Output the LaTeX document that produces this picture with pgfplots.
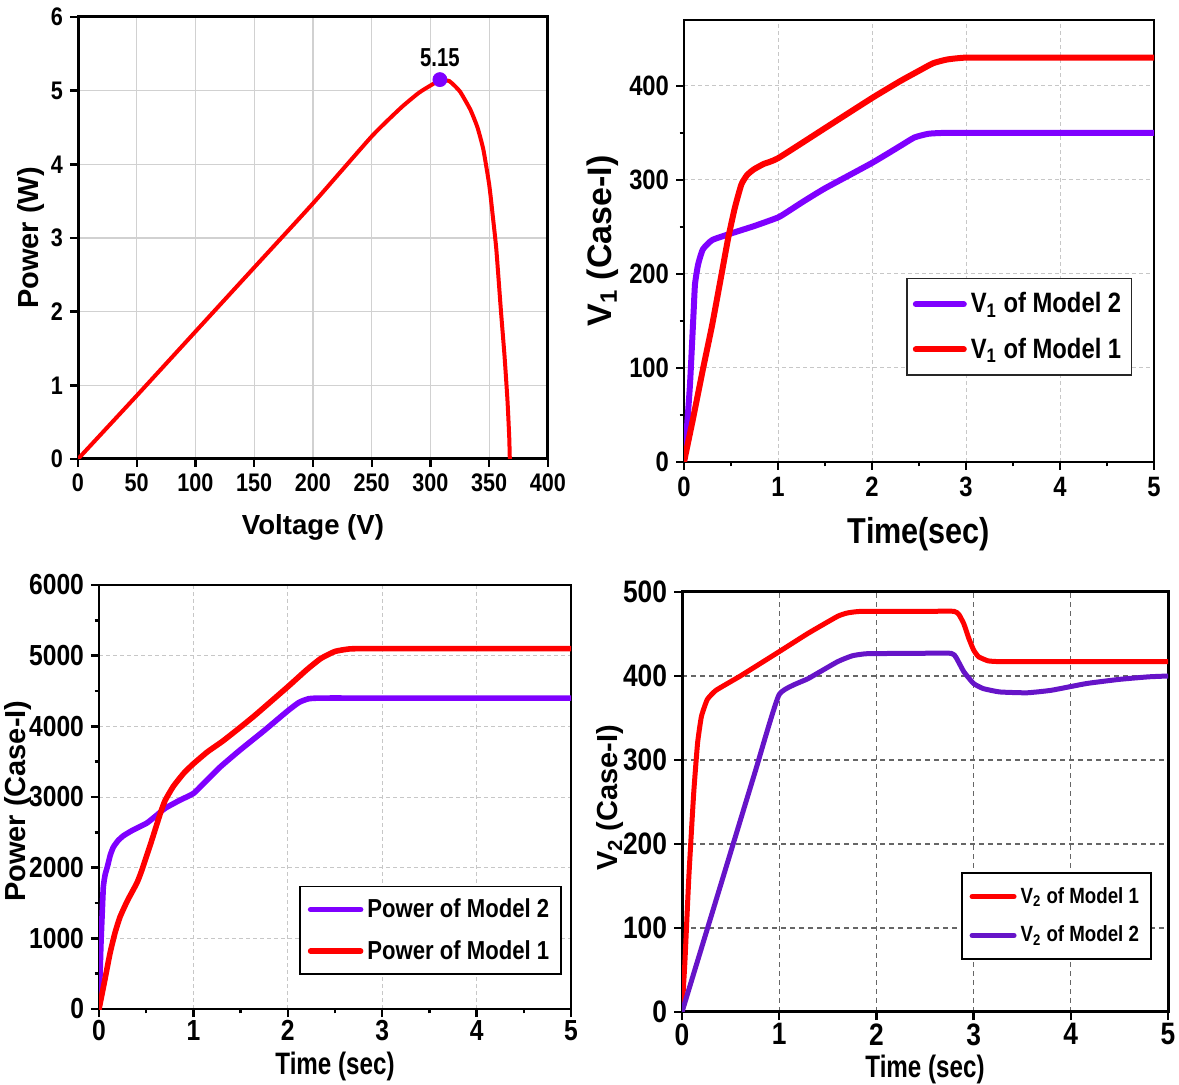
\documentclass[border=0pt]{standalone}
\usepackage{pgfplots}
\pgfplotsset{compat=1.18}
\usepackage{fontspec}
\setmainfont{Liberation Sans}[FakeStretch=0.85]
\newfontfamily\wide{Liberation Sans}
\newfontfamily\narrow{Liberation Sans}[FakeStretch=0.78]
\definecolor{myred}{RGB}{255,0,0}
\definecolor{myviolet}{RGB}{127,0,255}
\definecolor{mypurple}{RGB}{102,20,200}
\newcommand{\fs}[1]{\fontsize{#1bp}{#1bp}\selectfont\bfseries}
\pgfplotsset{
  base/.style={
    scale only axis, anchor=south west,
    axis line style={line width=1.3bp},
    tick style={line width=1.2bp, black},
    major tick length=4bp, minor tick length=2.2bp,
    tick align=outside, tick pos=left,
    /pgf/number format/assume math mode=true,
    /pgf/number format/1000 sep={},
    scaled ticks=false,
    grid=major,
    label style={inner sep=0pt},
    legend cell align=left,
    every axis plot/.append style={line join=round, line cap=round},
  }
}
\begin{document}
\begin{tikzpicture}
\path[use as bounding box] (0,0) rectangle (589.5bp,542.5bp);

% ---------- Panel 1: P-V curve ----------
\begin{axis}[base, at={(39bp,313bp)}, width=235bp, height=221bp,
  xmin=0, xmax=400, ymin=0, ymax=6,
  xtick={0,50,...,400}, ytick={0,1,...,6},
  axis line style={line width=1.5bp},
  major grid style={line width=0.7bp, color=black!18},
  tick label style={font=\fs{12.7}},
  xlabel={Voltage (V)}, ylabel={Power (W)},
  xlabel style={font=\wide\fs{13.8}, at={(axis description cs:0.5,-0.125)}, anchor=north},
  ylabel style={font=\wide\fs{14.5}, at={(axis description cs:-0.070,0.5)}, anchor=south},
]
\addplot[myred, line width=2bp, smooth, tension=0.3] coordinates {
(0,0) (50,0.86) (100,1.73) (150,2.6) (200,3.47) (250,4.38) (275,4.77)
(290,4.97) (300,5.07) (308,5.14) (316,5.13) (325,4.99) (334,4.74)
(340,4.5) (345,4.2) (350,3.72) (353,3.3) (356,2.85) (360,2.0)
(363,1.4) (365.5,0.8) (367,0.3) (367.5,0)};
\addplot[only marks, mark=*, mark size=3.5bp, color=myviolet,
  nodes near coords, point meta=explicit symbolic,
  every node near coord/.append style={font=\narrow\fs{13}, black, yshift=3bp}]
  coordinates {(308,5.15) [5.15]};
\end{axis}

% ---------- Panel 2: V1 ----------
\begin{axis}[base, at={(342bp,311.5bp)}, width=235bp, height=221bp,
  xmin=0, xmax=5, ymin=0, ymax=470,
  xtick={0,1,...,5}, ytick={0,100,...,400},
  minor x tick num=1, minor y tick num=1,
  major grid style={line width=0.5bp, color=black!22, dash pattern=on 2bp off 1.5bp},
  tick label style={font=\fs{14}},
  xlabel={Time(sec)}, ylabel={V\textsubscript{1} (Case-I)},
  xlabel style={font=\fs{18}, at={(axis description cs:0.5,-0.124)}, anchor=north},
  ylabel style={font=\wide\fs{17}, at={(axis description cs:-0.138,0.5)}, anchor=south},
  legend style={at={(0.953,0.195)}, anchor=south east, draw=black!85, line width=0.7bp,
    font=\fs{14}, row sep=7bp, inner xsep=3bp, inner ysep=5bp},
  legend image code/.code={\draw[#1] (0bp,0bp) -- (24bp,0bp);},
]
\addplot[myviolet, line width=3bp, smooth, tension=0.3] coordinates {
(0,0) (0.03,35) (0.064,83) (0.1,155) (0.117,189) (0.15,210) (0.2,226)
(0.3,236) (0.5,243) (0.75,251) (1.0,260) (1.1,266) (1.27,277) (1.5,291)
(2.0,318) (2.3,336) (2.45,345) (2.6,349) (2.8,350) (3.5,350) (5,350)};
\addlegendentry{V\textsubscript{1} of Model 2}
\addplot[myred, line width=3bp, smooth, tension=0.3] coordinates {
(0,0) (0.1,48) (0.2,98) (0.3,146) (0.4,200) (0.47,238) (0.54,270)
(0.61,295) (0.67,305) (0.74,311) (0.85,317) (1.0,323) (1.5,355)
(2.0,387) (2.3,405) (2.5,416) (2.65,424) (2.8,428) (3.0,430) (3.5,430) (5,430)};
\addlegendentry{V\textsubscript{1} of Model 1}
\end{axis}

% ---------- Panel 3: Power ----------
\begin{axis}[base, at={(49.5bp,38bp)}, width=236bp, height=212bp,
  xmin=0, xmax=5, ymin=0, ymax=6000,
  xtick={0,1,...,5}, ytick={0,1000,...,6000},
  minor x tick num=1, minor y tick num=1,
  major grid style={line width=0.5bp, color=black!22, dash pattern=on 2bp off 1.5bp},
  tick label style={font=\fs{14.5}},
  xticklabel style={inner sep=1.5bp},
  xlabel={Time (sec)}, ylabel={Power (Case-I)},
  xlabel style={font=\narrow\fs{15.5}, at={(axis description cs:0.5,-0.100)}, anchor=north},
  ylabel style={font=\wide\fs{14.5}, at={(axis description cs:-0.142,0.49)}, anchor=south},
  legend style={at={(0.981,0.08)}, anchor=south east, draw=black, line width=0.9bp,
    font=\fs{13}, row sep=6bp, inner xsep=4bp, inner ysep=4bp},
  legend image code/.code={\draw[#1] (0bp,0bp) -- (25bp,0bp);},
]
\addplot[myviolet, line width=2.8bp, smooth, tension=0.3] coordinates {
(0,0) (0.02,900) (0.035,1400) (0.046,1730) (0.065,1900) (0.09,2020)
(0.12,2180) (0.152,2290) (0.2,2380) (0.257,2450) (0.35,2525) (0.505,2630)
(0.6,2730) (0.7,2840) (0.85,2950) (1.0,3050) (1.1,3180) (1.28,3420)
(1.49,3660) (1.75,3940) (2.0,4220) (2.12,4340) (2.22,4390) (2.35,4400) (3,4400) (5,4400)};
\addlegendentry{Power of Model 2}
\addplot[myred, line width=2.8bp, smooth, tension=0.3] coordinates {
(0,0) (0.06,400) (0.117,790) (0.17,1080) (0.222,1300) (0.3,1530)
(0.4,1780) (0.45,1950) (0.55,2350) (0.65,2770) (0.7,2950) (0.787,3150)
(0.9,3340) (1.0,3470) (1.15,3640) (1.31,3790) (1.5,3990) (1.66,4165)
(2.0,4560) (2.2,4800) (2.35,4960) (2.5,5060) (2.65,5095) (2.8,5100) (3.5,5100) (5,5100)};
\addlegendentry{Power of Model 1}
\end{axis}

% ---------- Panel 4: V2 ----------
\begin{axis}[base, at={(341bp,36.5bp)}, width=243bp, height=210bp,
  xmin=0, xmax=5, ymin=0, ymax=500,
  xtick={0,1,...,5}, ytick={0,100,...,500},
  axis line style={line width=1.5bp},
  major grid style={line width=0.6bp, color=black!60, dash pattern=on 2.5bp off 2bp},
  tick label style={font=\fs{15.5}},
  xticklabel style={inner sep=1.5bp},
  xlabel={Time (sec)}, ylabel={V\textsubscript{2} (Case-I)},
  xlabel style={font=\narrow\fs{15.5}, at={(axis description cs:0.5,-0.102)}, anchor=north},
  ylabel style={font=\wide\fs{14.5}, at={(axis description cs:-0.119,0.51)}, anchor=south},
  legend style={at={(0.967,0.124)}, anchor=south east, draw=black, line width=1bp,
    font=\fs{11}, row sep=6bp, inner xsep=4bp, inner ysep=5bp},
  legend image code/.code={\draw[#1] (0bp,0bp) -- (21bp,0bp);},
]
\addplot[myred, line width=2.5bp, smooth, tension=0.25] coordinates {
(0,0) (0.03,60) (0.07,160) (0.12,260) (0.16,320) (0.2,352) (0.26,372)
(0.35,383) (0.6,400) (1.0,429) (1.3,451) (1.6,471) (1.7,475) (1.85,477)
(2.5,477) (2.8,477) (2.85,473) (2.9,462) (2.95,445) (3.0,431) (3.05,423)
(3.15,418) (3.3,417) (4,417) (5,417)};
\addlegendentry{V\textsubscript{2} of Model 1}
\addplot[mypurple, line width=2.5bp, smooth, tension=0.25] coordinates {
(0,0) (0.25,95) (0.5,190) (0.75,285) (1.0,378) (1.3,397) (1.6,417)
(1.75,424) (1.9,426.5) (2.4,427) (2.77,427) (2.82,422) (2.9,405)
(3.0,391) (3.1,385) (3.27,381) (3.55,380) (3.8,383) (4.16,391)
(4.5,396) (4.8,399) (5,400)};
\addlegendentry{V\textsubscript{2} of Model 2}
\end{axis}
\end{tikzpicture}
\end{document}
